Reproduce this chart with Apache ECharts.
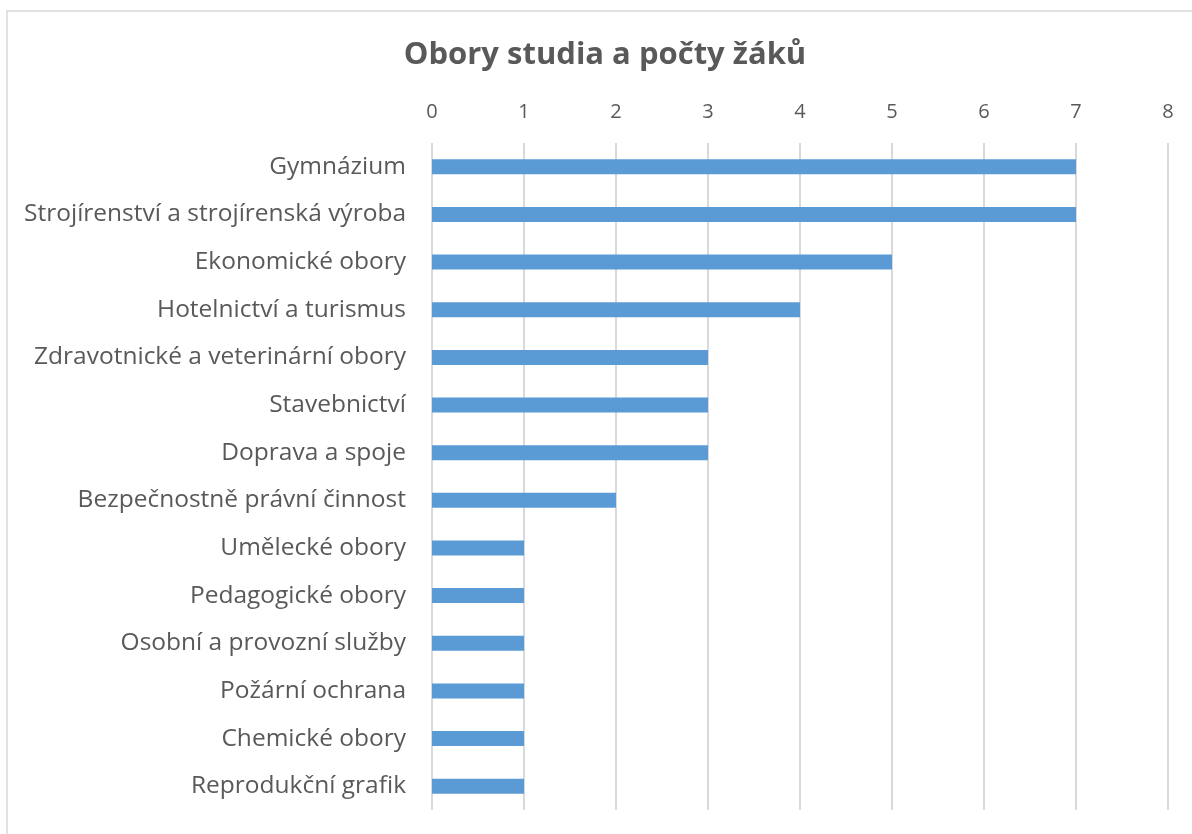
<!DOCTYPE html>
<html><head><meta charset="utf-8">
<script src="https://cdn.jsdelivr.net/npm/echarts@6/dist/echarts.min.js"></script>
<style>html,body{margin:0;padding:0;background:#fff}#c{width:1192px;height:834px}</style>
</head><body><div id="c"></div>
<script>
const categories = ["Gymnázium","Strojírenství a strojírenská výroba","Ekonomické obory","Hotelnictví a turismus","Zdravotnické a veterinární obory","Stavebnictví","Doprava a spoje","Bezpečnostně právní činnost","Umělecké obory","Pedagogické obory","Osobní a provozní služby","Požární ochrana","Chemické obory","Reprodukční grafik"];
const values = [7,7,5,4,3,3,3,2,1,1,1,1,1,1];
const xTicks = [0,1,2,3,4,5,6,7,8];
const chart = echarts.init(document.getElementById('c'));
const font = '"Open Sans", sans-serif';
chart.setOption({
  animation:false,
  title:{text:'Obory studia a počty žáků',left:600,textAlign:'center',top:35,textStyle:{fontFamily:font,fontSize:31,fontWeight:'bold',color:'#595959'}},
  graphic:[{type:'rect',shape:{x:7,y:11,width:1200,height:840},style:{fill:'none',stroke:'#d9d9d9',lineWidth:1.5},silent:true}],
  grid:{left:432,right:24,top:143,bottom:24},
  xAxis:{type:'value',position:'top',min:xTicks[0],max:xTicks[xTicks.length-1],interval:1,
    axisLine:{show:false},axisTick:{show:false},
    axisLabel:{fontFamily:font,fontSize:20,color:'#595959',margin:21},
    splitLine:{lineStyle:{color:'#d9d9d9',width:2}}},
  yAxis:{type:'category',data:categories,inverse:true,
    axisLine:{show:false},axisTick:{show:false},
    axisLabel:{fontFamily:font,fontSize:24.5,color:'#595959',margin:26}},
  series:[{type:'bar',data:values,barWidth:15,itemStyle:{color:'#5b9bd5'}}]
});
</script></body></html>
